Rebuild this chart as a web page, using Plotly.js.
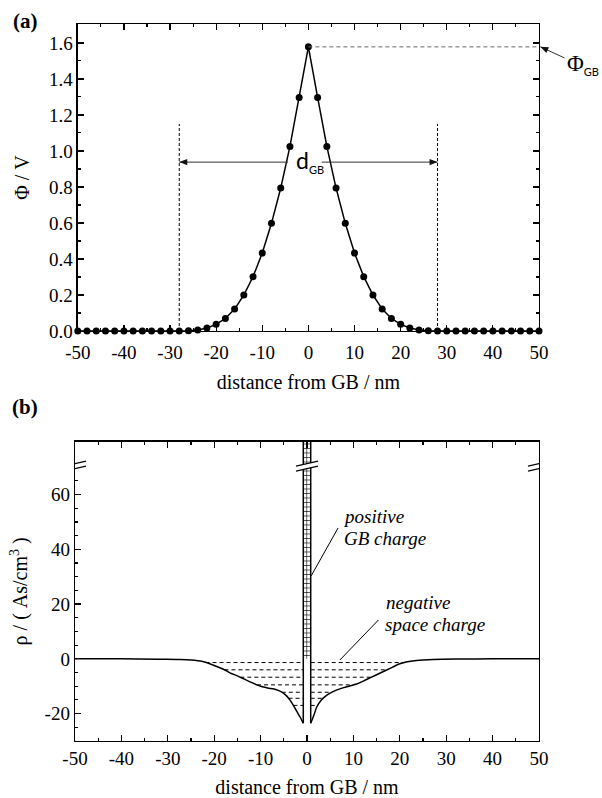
<!DOCTYPE html>
<html><head><meta charset="utf-8">
<script src="https://cdn.plot.ly/plotly-3.0.1.min.js"></script>
<style>html,body{margin:0;padding:0;background:#fff}#chart{width:602px;height:798px}</style>
</head><body><div id="chart"></div>
<script>
// ---------- panel (a): potential barrier ----------
const distA = [-50,-48,-46,-44,-42,-40,-38,-36,-34,-32,-30,-28,-26,-24,-22,-20,-18,-16,-14,-12,-10,-8,-6,-4,-2,0,
               2,4,6,8,10,12,14,16,18,20,22,24,26,28,30,32,34,36,38,40,42,44,46,48,50];
const phiA  = [0,0,0,0,0,0,0,0,0,0,0,0,0.002,0.006,0.017,0.037,0.070,0.122,0.200,0.302,0.433,0.598,0.794,1.025,1.297,1.578,
               1.297,1.025,0.794,0.598,0.433,0.302,0.200,0.122,0.070,0.037,0.017,0.006,0.002,0,0,0,0,0,0,0,0,0,0,0,0];
const dGBedges = [-28, 28];      // width of the depletion zone
const dGBlineTop = 1.15;
const dGBarrowY = 0.938;
const dGBarrowTails = [-4.4, 2.9];

// ---------- panel (b): charge density ----------
const rhoXLeft  = [-50,-40,-32,-28,-25,-22.5,-20,-18,-16.5,-15,-13.5,-12,-10.5,-9.4,-8.3,-7.3,-6.2,-5.1,-4.3,-3.7,-3.0,-2.2,-1.5,-0.8];
const rhoLeft   = [0,0,-0.1,-0.25,-0.45,-1.0,-2.4,-3.8,-5.2,-6.2,-7.4,-8.6,-9.7,-10.3,-10.7,-10.9,-11.5,-12.5,-13.7,-15.0,-16.8,-19.2,-21.2,-23.5];
const rhoXRight = [0.8,1.5,2.1,3.0,4.0,5.0,6.2,7.9,9.2,10.7,12.5,15,17.5,20,22,23.6,25,27.2,32,40,50];
const rhoRight  = [-23.5,-20.5,-17.6,-15.2,-13.6,-12.5,-11.5,-10.5,-9.9,-9.2,-7.8,-5.8,-3.8,-1.8,-1.0,-0.6,-0.4,-0.2,-0.05,0,0];
const gbEdges = [-0.8, 0.8];      // positive GB charge sheet
const gbTop = 90;                 // off-scale (broken axis)
const hatchLevels = [-1.35,-4.0,-6.7,-9.5,-12.2,-14.4,-17.0];
const breakXs = [-50, 0, 50];
const breakY = 70.2;

// ---------- tick labels ----------
const xTickVals = [-50,-40,-30,-20,-10,0,10,20,30,40,50];
const xTickText = ['-50','-40','-30','-20','-10','0','10','20','30','40','50'];
const yTickValsA = [0,0.2,0.4,0.6,0.8,1.0,1.2,1.4,1.6];
const yTickTextA = ['0.0','0.2','0.4','0.6','0.8','1.0','1.2','1.4','1.6'];
const yTickValsB = [-20,0,20,40,60];
const yTickTextB = ['-20','0','20','40','60'];

const serif = '"Liberation Serif", "Times New Roman", serif';
const sans = 'Lato, "DejaVu Sans", sans-serif';

function crossX(xs, ys, lvl){
  for (let i=0;i<xs.length-1;i++){
    const a=ys[i]-lvl, b=ys[i+1]-lvl;
    if (a*b<=0 && ys[i]!==ys[i+1]) return xs[i]+(lvl-ys[i])*(xs[i+1]-xs[i])/(ys[i+1]-ys[i]);
  }
  return null;
}
const hx=[], hy=[];
hatchLevels.forEach(l=>{
  const xl=crossX(rhoXLeft,rhoLeft,l), xr=crossX(rhoXRight,rhoRight,l);
  hx.push(xl,gbEdges[0],null,gbEdges[1],xr,null);
  hy.push(l,l,null,l,l,null);
});

const phiMax = Math.max(...phiA);
const yRangeA = [0, 1.705];
const yDomainA = [0.5718, 1];

const traces = [
  {x:distA, y:phiA, xaxis:'x', yaxis:'y', mode:'lines+markers', cliponaxis:false,
   line:{color:'#000', width:1.5}, marker:{color:'#000', size:7}, showlegend:false},
  {x:hx, y:hy, xaxis:'x2', yaxis:'y2', mode:'lines', line:{color:'#000', width:1, dash:'4px,3px'}, showlegend:false},
  {x:[gbEdges[0],gbEdges[0],gbEdges[1],gbEdges[1]], y:[0,gbTop,gbTop,0], xaxis:'x2', yaxis:'y2',
   mode:'none', fill:'toself', fillcolor:'rgba(0,0,0,0)',
   fillpattern:{shape:'+', size:4.5, solidity:0.25, fgcolor:'#000', bgcolor:'#fff'}, showlegend:false},
  {x:rhoXLeft, y:rhoLeft, xaxis:'x2', yaxis:'y2', mode:'lines', line:{color:'#000', width:1.5, shape:'spline', smoothing:0.8}, showlegend:false},
  {x:rhoXRight, y:rhoRight, xaxis:'x2', yaxis:'y2', mode:'lines', line:{color:'#000', width:1.5, shape:'spline', smoothing:0.8}, showlegend:false},
  {x:[gbEdges[0],gbEdges[0],null,gbEdges[1],gbEdges[1]],
   y:[rhoLeft[rhoLeft.length-1],gbTop,null,gbTop,rhoRight[0]], xaxis:'x2', yaxis:'y2', mode:'lines',
   line:{color:'#000', width:1.5}, showlegend:false}
];

const axBase = {showgrid:false, zeroline:false, showline:true, linecolor:'#000', linewidth:1.3,
  ticks:'inside', ticklen:6, tickwidth:1.2, tickcolor:'#000', tickmode:'array',
  tickfont:{family:serif, size:19, color:'#000'}};
const minorX = {tickmode:'linear', tick0:0, dtick:5, ticklen:3, tickwidth:1.1, ticks:'inside', tickcolor:'#000'};

const yMinor2 = [];
for (let v=-25; v<=70; v+=5) if (v%20!==0) yMinor2.push(v);

const W=602, H=798, ML=75, MR=63, MT=24, MB=57;
const px = x => (x-ML)/(W-ML-MR);
const py = y => (H-MB-y)/(H-MT-MB);

// arrowhead path (pixel units, y up) pointing along (dx,dy)
function headPath(dx, dy, len, half){
  const n=Math.hypot(dx,dy), ux=dx/n, uy=dy/n, vx=-uy, vy=ux;
  const bx=-ux*len, by=-uy*len;
  return 'M0,0 L'+(bx+vx*half).toFixed(2)+','+(by+vy*half).toFixed(2)+' L'+(bx-vx*half).toFixed(2)+','+(by-vy*half).toFixed(2)+' Z';
}

const shapes = [];
dGBedges.forEach(e=>shapes.push({type:'line', xref:'x', yref:'y', x0:e, x1:e, y0:0, y1:dGBlineTop,
  line:{color:'#000', width:1, dash:'3px,2px'}}));
shapes.push({type:'line', xref:'x', yref:'y', x0:0, x1:50, y0:phiMax, y1:phiMax,
  line:{color:'#666', width:1, dash:'4px,3px'}});
// dGB arrows
dGBedges.forEach((e,i)=>{
  shapes.push({type:'line', xref:'x', yref:'y', x0:dGBarrowTails[i], x1:e, y0:dGBarrowY, y1:dGBarrowY, line:{color:'#333', width:1}});
  shapes.push({type:'path', xref:'x', yref:'y', xsizemode:'pixel', ysizemode:'pixel', xanchor:e, yanchor:dGBarrowY,
    path:headPath(Math.sign(e),0,8,3.2), fillcolor:'#111', line:{width:0}});
});
// Phi_GB arrow (paper coords so it is not clipped at the plot edge)
const phiPaperY = yDomainA[0] + (phiMax - yRangeA[0])/(yRangeA[1]-yRangeA[0])*(yDomainA[1]-yDomainA[0]);
shapes.push({type:'line', xref:'paper', yref:'paper', xsizemode:'pixel', ysizemode:'pixel', xanchor:1.003, yanchor:phiPaperY,
  x0:0, y0:0, x1:24, y1:-11, line:{color:'#333', width:1}});
shapes.push({type:'path', xref:'paper', yref:'paper', xsizemode:'pixel', ysizemode:'pixel', xanchor:1.003, yanchor:phiPaperY,
  path:headPath(-24,11,8,3.2), fillcolor:'#111', line:{width:0}});
// leader lines
shapes.push({type:'line', xref:'x2', yref:'y2', x0:6.7, y0:47.8, x1:gbEdges[1]+0.1, y1:30.3, line:{color:'#000', width:1}});
shapes.push({type:'line', xref:'x2', yref:'y2', x0:15.4, y0:14.2, x1:7.1, y1:-0.4, line:{color:'#000', width:1}});
// axis breaks
breakXs.forEach(bx=>{
  shapes.push({type:'path', layer:'above', xref:'x2', yref:'y2', xsizemode:'pixel', ysizemode:'pixel',
    xanchor:bx, yanchor:breakY, path:'M-11,-4.5 L11,0.5 L11,5.5 L-11,0.5 Z', fillcolor:'#fff', line:{width:0}});
  shapes.push({type:'line', layer:'above', xref:'x2', yref:'y2', xsizemode:'pixel', ysizemode:'pixel',
    xanchor:bx, yanchor:breakY, x0:-11, x1:11, y0:-4.5, y1:0.5, line:{color:'#000', width:1.3}});
  shapes.push({type:'line', layer:'above', xref:'x2', yref:'y2', xsizemode:'pixel', ysizemode:'pixel',
    xanchor:bx, yanchor:breakY, x0:-11, x1:11, y0:0.5, y1:5.5, line:{color:'#000', width:1.3}});
});

const sub = t => '<sub><span style="font-family:Lato;font-size:11px">'+t+'</span></sub>';
const annotations = [
  {xref:'paper', yref:'paper', x:px(25), y:py(21), xanchor:'center', yanchor:'middle', text:'<b>(a)</b>', showarrow:false, font:{family:serif, size:21, color:'#000'}},
  {xref:'paper', yref:'paper', x:px(25), y:py(407), xanchor:'center', yanchor:'middle', text:'<b>(b)</b>', showarrow:false, font:{family:serif, size:21, color:'#000'}},
  // dGB
  {xref:'x', yref:'y', x:0, y:dGBarrowY, text:'d'+sub('GB'), showarrow:false, xshift:2, yshift:1,
   xanchor:'center', yanchor:'middle', font:{family:sans, size:23, color:'#000'}},
  // Phi GB
  {xref:'paper', yref:'paper', x:1, y:phiPaperY, xanchor:'left', yanchor:'middle', xshift:26, yshift:-18,
   text:'Φ'+sub('GB'), showarrow:false, font:{family:serif, size:23, color:'#000'}},
  // panel b labels
  {xref:'x2', yref:'y2', x:7.3, y:51.9, xanchor:'left', yanchor:'middle', text:'<i>positive</i>', showarrow:false, font:{family:serif, size:19, color:'#000'}},
  {xref:'x2', yref:'y2', x:7.6, y:44.1, xanchor:'left', yanchor:'middle', text:'<i>GB charge</i>', showarrow:false, font:{family:serif, size:19, color:'#000'}},
  {xref:'x2', yref:'y2', x:16.6, y:20.4, xanchor:'left', yanchor:'middle', text:'<i>negative</i>', showarrow:false, font:{family:serif, size:19, color:'#000'}},
  {xref:'x2', yref:'y2', x:16.4, y:12.4, xanchor:'left', yanchor:'middle', text:'<i>space charge</i>', showarrow:false, font:{family:serif, size:19, color:'#000'}}
];

const titleFont = {family:serif, size:20, color:'#000'};
const layout = {
  width:W, height:H, margin:{l:ML, r:MR, t:MT, b:MB}, paper_bgcolor:'#fff', plot_bgcolor:'#fff',
  showlegend:false, font:{family:serif, color:'#000'},
  xaxis: Object.assign({}, axBase, {domain:[0.006,1], range:[-50,50], anchor:'y', tickvals:xTickVals, ticktext:xTickText,
    mirror:'ticks', ticklabelstandoff:4, minor:minorX,
    title:{text:'distance from GB / nm', font:titleFont, standoff:13}}),
  yaxis: Object.assign({}, axBase, {domain:yDomainA, range:yRangeA, anchor:'x', tickvals:yTickValsA, ticktext:yTickTextA,
    mirror:'ticks', minor:{tickmode:'linear', tick0:0, dtick:0.1, ticklen:3, tickwidth:1.1, ticks:'inside', tickcolor:'#000'},
    title:{text:'Φ / V', font:titleFont, standoff:14}}),
  xaxis2: Object.assign({}, axBase, {domain:[0,1], range:[-50,50], anchor:'y2', tickvals:xTickVals, ticktext:xTickText,
    mirror:'ticks', minor:minorX,
    title:{text:'distance from GB / nm', font:titleFont, standoff:13}}),
  yaxis2: Object.assign({}, axBase, {domain:[0,0.4174], range:[-30,79.3], anchor:'x2', tickvals:yTickValsB, ticktext:yTickTextB,
    mirror:true,
    minor:{tickmode:'array', tickvals:yMinor2, ticklen:3, tickwidth:1.1, ticks:'inside', tickcolor:'#000'},
    title:{text:'ρ / ( As/cm<sup>3</sup> )', font:titleFont, standoff:11}}),
  shapes:shapes, annotations:annotations
};

Plotly.newPlot('chart', traces, layout, {displayModeBar:false, staticPlot:true});
</script>
</body></html>
